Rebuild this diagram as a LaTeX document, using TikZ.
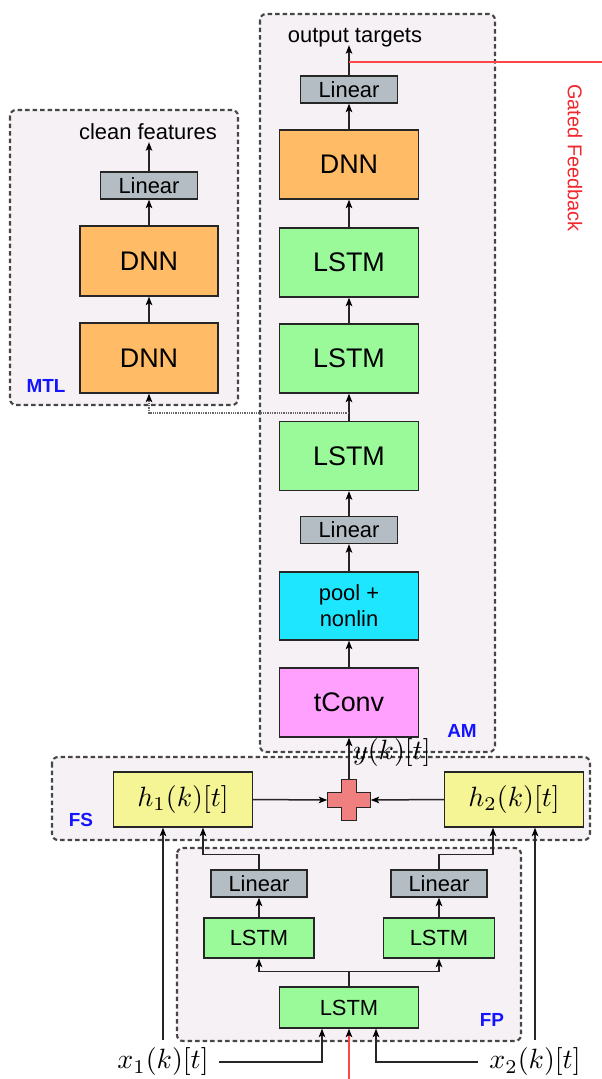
\documentclass[tikz,border=0pt]{standalone}
\usepackage[no-math]{fontspec}
\usepackage{graphicx}
\setmainfont{Liberation Sans}
\usetikzlibrary{arrows.meta,calc}

\definecolor{panelbg}{RGB}{245,241,245}
\definecolor{panelln}{RGB}{70,70,70}
\definecolor{linfill}{RGB}{180,188,196}
\definecolor{dnnfill}{RGB}{255,187,102}
\definecolor{lstmfill}{RGB}{154,250,154}
\definecolor{poolfill}{RGB}{30,230,255}
\definecolor{convfill}{RGB}{255,160,255}
\definecolor{hfill}{RGB}{245,245,150}
\definecolor{plusfill}{RGB}{240,128,128}
\definecolor{tagblue}{RGB}{20,20,255}
\definecolor{fbred}{RGB}{255,70,70}
\definecolor{fbtext}{RGB}{240,40,45}

% math labels are set at text size and enlarged
\newcommand{\bigmath}[1]{\scalebox{2.8}{$#1$}}

\begin{document}
\begin{tikzpicture}[x=1bp,y=-1bp,
  container/.style={draw=panelln,fill=panelbg,line width=2.1bp,
    dash pattern=on 4.5bp off 3bp,rounded corners=6bp},
  blk/.style={draw=black!85,line width=1.3bp,inner sep=0pt,align=center},
  bigblk/.style={blk,minimum width=139bp,minimum height=69bp,
    font=\fontsize{27}{30}\selectfont},
  linblk/.style={blk,fill=linfill,minimum width=97bp,minimum height=27bp,
    font=\fontsize{22}{24}\selectfont},
  smallblk/.style={blk,fill=lstmfill,minimum width=110bp,minimum height=40bp,
    font=\fontsize{22}{24}\selectfont},
  hblk/.style={blk,fill=hfill,minimum width=139bp,minimum height=55bp},
  tag/.style={text=tagblue,font=\fontsize{19}{20}\selectfont\bfseries,inner sep=0pt},
  caption/.style={inner sep=0pt,anchor=base,text height=0.7em,text depth=0.3em,
    font=\fontsize{22}{24}\selectfont},
  mathlbl/.style={inner sep=0pt},
  tip/.style={-{Stealth[length=8.5bp,width=6.5bp,inset=2bp,#1]}},
  conn/.style={draw=black!85,line width=1.5bp,tip=black},
  dotconn/.style={draw=black!60,line width=1.3bp,densely dotted,tip=black},
  fbline/.style={color=fbred,line width=1.5bp},
]
\useasboundingbox (0,0) rectangle (602,1079);

% ---------- dashed group panels ----------
\draw[container] (10,110) rectangle (238,405);
\draw[container] (260,14) rectangle (495,752);
\draw[container] (52,757) rectangle (590,840);
\draw[container] (177,848) rectangle (521,1041);

% ---------- acoustic model stack ----------
\node[linblk] (linA) at (349,89.5) {Linear};
\node[bigblk,fill=dnnfill] (dnnA) at (349,164.5) {DNN};
\node[bigblk,fill=lstmfill] (lstmA1) at (349,262.5) {LSTM};
\node[bigblk,fill=lstmfill] (lstmA2) at (349,358.5) {LSTM};
\node[bigblk,fill=lstmfill] (lstmA3) at (349,456) {LSTM};
\node[linblk] (linA2) at (349,530) {Linear};
\node[bigblk,fill=poolfill,minimum height=68bp,
  font=\fontsize{22}{26}\selectfont] (pool) at (349,606) {pool +\\nonlin};
\node[bigblk,fill=convfill] (tconv) at (349,702.5) {tConv};
\node[caption] (out) at (355,42) {output targets};
\node[tag] (amtag) at (462,731) {AM};

% ---------- multi-task branch ----------
\node[linblk] (linM) at (149,185.5) {Linear};
\node[bigblk,fill=dnnfill,minimum width=138bp,minimum height=70bp] (dnnM1) at (149,261) {DNN};
\node[bigblk,fill=dnnfill,minimum width=138bp,minimum height=70bp] (dnnM2) at (149,358) {DNN};
\node[caption] (clean) at (148,139) {clean features};
\node[tag] (mtltag) at (46,386) {MTL};

% ---------- feature selection ----------
\node[hblk] (h1) at (183,799.5) {\bigmath{h_1(k)[t]}};
\node[hblk] (h2) at (514,799.5) {\bigmath{h_2(k)[t]}};
\node[minimum width=43bp,minimum height=41bp,inner sep=0pt] (plus) at (349,800) {};
\draw[fill=plusfill,draw=black!85,line width=1.1bp,shift={(plus.center)}]
  (-7.5,-20.5) -- (7.5,-20.5) -- (7.5,-7.5) -- (21.5,-7.5) -- (21.5,7.5)
  -- (7.5,7.5) -- (7.5,20.5) -- (-7.5,20.5) -- (-7.5,7.5) -- (-21.5,7.5)
  -- (-21.5,-7.5) -- (-7.5,-7.5) -- cycle;
\node[mathlbl,anchor=west] (ylbl) at (353,753) {\bigmath{y(k)[t]}};
\node[tag] (fstag) at (81,820) {FS};

% ---------- feature prediction ----------
\node[linblk,minimum width=96bp] (linL) at (259,883.5) {Linear};
\node[linblk,minimum width=96bp] (linR) at (439,883.5) {Linear};
\node[smallblk] (lstmL) at (259,938) {LSTM};
\node[smallblk,minimum width=111bp] (lstmR) at (439,938) {LSTM};
\node[smallblk,minimum width=139bp,minimum height=41bp] (lstmB) at (349,1007.5) {LSTM};
\node[tag] (fptag) at (492,1020) {FP};

% ---------- inputs ----------
\node[mathlbl] (x1) at (163,1062) {\bigmath{x_1(k)[t]}};
\node[mathlbl] (x2) at (535,1062) {\bigmath{x_2(k)[t]}};
\coordinate (fbin) at (349,1079);
\coordinate (tap) at (349,413);
\coordinate (fbtap) at (349,62);
\coordinate (fbout) at (602,62);

% ---------- connectors: acoustic model ----------
\draw[conn] (tconv.north) -- (pool.south);
\draw[conn] (pool.north) -- (linA2.south);
\draw[conn] (linA2.north) -- (lstmA3.south);
\draw[conn] (lstmA3.north) -- (lstmA2.south);
\draw[conn] (lstmA2.north) -- (lstmA1.south);
\draw[conn] (lstmA1.north) -- (dnnA.south);
\draw[conn] (dnnA.north) -- (linA.south);
\draw[conn] (linA.north) -- (linA.north |- out.south);

% ---------- connectors: multi-task ----------
\draw[dotconn] (tap) -| (dnnM2.south);
\draw[conn] (dnnM2.north) -- (dnnM1.south);
\draw[conn] (dnnM1.north) -- (linM.south);
\draw[conn] (linM.north) -- (linM.north |- clean.south);

% ---------- connectors: selection and prediction ----------
\draw[conn] (h1.east) -- (plus.west);
\draw[conn] (h2.west) -- (plus.east);
\draw[conn] (plus.north) -- (tconv.south);
\draw[conn] (lstmB.north) -- ++(0,-15) -| (lstmL.south);
\draw[conn] (lstmB.north) -- ++(0,-15) -| (lstmR.south);
\draw[conn] (lstmL.north) -- (linL.south);
\draw[conn] (lstmR.north) -- (linR.south);
\draw[conn] (linL.north) -- ++(0,-15) -| ([xshift=20bp]h1.south);
\draw[conn] (linR.north) -- ++(0,-15) -| ([xshift=-21bp]h2.south);
\draw[conn] ([yshift=8bp]x1.north) -- (x1.north |- h1.south);
\draw[conn] ([yshift=8bp]x2.north) -- (x2.north |- h2.south);
\draw[conn] ([xshift=10bp]x1.east) -| ([xshift=-27bp]lstmB.south);
\draw[conn] ([xshift=-11bp]x2.west) -| ([xshift=27bp]lstmB.south);

% ---------- gated feedback ----------
\draw[fbline,tip=black] (fbin) -- (lstmB.south);
\draw[fbline] (fbtap) -- (fbout);
\node[rotate=-90,text=fbtext,inner sep=0pt,font=\fontsize{20}{22}\selectfont]
  (fbtxt) at (575,158) {Gated Feedback};
\end{tikzpicture}
\end{document}
